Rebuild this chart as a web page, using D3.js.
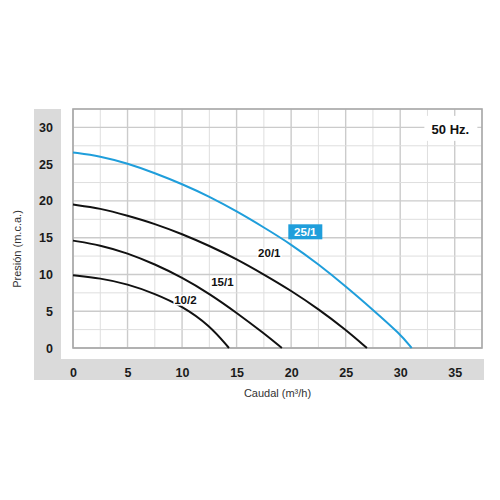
<!DOCTYPE html>
<html>
<head>
<meta charset="utf-8">
<script src="https://cdn.jsdelivr.net/npm/d3@7"></script>
<style>
  body { margin: 0; background: #fff; }
  svg text { font-family: "Liberation Sans", Arial, Helvetica, sans-serif; }
</style>
</head>
<body>
<div class="chart"></div>
<script>
// caudal (m3/h) / presion (m.c.a.)
var q25 = [0, 2.5, 5, 7.5, 10, 12.5, 15, 17.5, 20, 22.5, 25, 27.5, 30, 31.05];
var h25 = [26.6, 26.1, 25.1, 23.8, 22.3, 20.6, 18.6, 16.4, 14.1, 11.4, 8.4, 5.2, 1.9, 0];

var q20 = [0, 2.5, 5, 7.5, 10, 12.5, 15, 17.5, 20, 22.5, 25, 26.95];
var h20 = [19.5, 19.0, 18.0, 16.9, 15.5, 13.9, 12.1, 10.0, 7.8, 5.3, 2.5, 0];

var q15 = [0, 2.5, 5, 7.5, 10, 12.5, 15, 17.5, 19.15];
var h15 = [14.6, 14.0, 12.9, 11.4, 9.6, 7.4, 4.8, 2.0, 0];

var q10 = [0, 2.5, 5, 7.5, 10, 12.5, 14.3];
var h10 = [9.9, 9.5, 8.7, 7.4, 5.7, 3.1, 0];

var seriesNames = ["25/1", "20/1", "15/1", "10/2"];
var labelQ = [21.3, 18.0, 13.7, 10.3];
var labelH = [15.8, 12.9, 9.0, 6.5];

var xTicks = [0, 5, 10, 15, 20, 25, 30, 35];
var yTicks = [0, 5, 10, 15, 20, 25, 30];
var xMax = 37.5, yMax = 32.5;

var blue = "#1f9edb";

var margin = {top: 109, right: 18, bottom: 152, left: 73};
var width = 500 - margin.left - margin.right,
    height = 500 - margin.top - margin.bottom;

var svg = d3.select(".chart").append("svg")
    .attr("width", 500)
    .attr("height", 500);

// grey L-shaped frame behind the plot
svg.append("rect").attr("x", 34).attr("y", 109).attr("width", 450).attr("height", 271).attr("fill", "#dadada");
svg.append("rect").attr("x", 61).attr("y", 95).attr("width", 439).attr("height", 264).attr("fill", "#fff");

var g = svg.append("g")
    .attr("transform", "translate(" + margin.left + "," + margin.top + ")");

var x = d3.scaleLinear().domain([0, xMax]).range([0, width]);
var y = d3.scaleLinear().domain([0, yMax]).range([height, 0]);

// grid
var minor = d3.range(0, xMax + 0.1, 2.5);
var minorY = d3.range(0, yMax + 0.1, 2.5);

g.selectAll(".vgrid").data(minor).enter().append("line")
    .attr("x1", function(d) { return x(d); })
    .attr("x2", function(d) { return x(d); })
    .attr("y1", 0).attr("y2", height)
    .attr("stroke", function(d) { return d % 5 === 0 ? "#cbcbcb" : "#dedede"; })
    .attr("stroke-width", function(d) { return d % 5 === 0 ? 1.4 : 1; });

g.selectAll(".hgrid").data(minorY).enter().append("line")
    .attr("y1", function(d) { return y(d); })
    .attr("y2", function(d) { return y(d); })
    .attr("x1", 0).attr("x2", width)
    .attr("stroke", function(d) { return d % 5 === 0 ? "#cbcbcb" : "#dedede"; })
    .attr("stroke-width", function(d) { return d % 5 === 0 ? 1.4 : 1; });

g.append("rect")
    .attr("width", width).attr("height", height)
    .attr("fill", "none")
    .attr("stroke", "#a8a8a8")
    .attr("stroke-width", 1.6);

// axes
var xAxis = d3.axisBottom(x).tickValues(xTicks).tickSize(0).tickPadding(0);
var yAxis = d3.axisLeft(y).tickValues(yTicks).tickSize(0).tickPadding(0);

var gx = g.append("g")
    .attr("transform", "translate(0," + (height + 25) + ")")
    .call(xAxis);
gx.select(".domain").remove();
gx.selectAll("text")
    .attr("font-size", 12.5).attr("font-weight", "bold").attr("fill", "#1a1a1a")
    .attr("dy", "0.32em").attr("y", 0);

var gy = g.append("g")
    .attr("transform", "translate(-20,0)")
    .call(yAxis);
gy.select(".domain").remove();
gy.selectAll("text")
    .attr("font-size", 12.5).attr("font-weight", "bold").attr("fill", "#1a1a1a")
    .attr("x", 0);

svg.append("text")
    .attr("x", margin.left + width / 2).attr("y", 397)
    .attr("text-anchor", "middle")
    .attr("font-size", 11).attr("fill", "#333")
    .text("Caudal (m³/h)");

svg.append("text")
    .attr("transform", "translate(21,249) rotate(-90)")
    .attr("text-anchor", "middle")
    .attr("font-size", 11).attr("fill", "#333")
    .text("Presión (m.c.a.)");

// curves
var curves = [
    {q: q25, h: h25, color: blue},
    {q: q20, h: h20, color: "#111"},
    {q: q15, h: h15, color: "#111"},
    {q: q10, h: h10, color: "#111"}
];

var line = d3.line()
    .x(function(d) { return x(d[0]); })
    .y(function(d) { return y(d[1]); })
    .curve(d3.curveBasis);

g.selectAll(".curve").data(curves).enter().append("path")
    .attr("class", "curve")
    .attr("fill", "none")
    .attr("stroke", function(d) { return d.color; })
    .attr("stroke-width", 2)
    .attr("d", function(d) { return line(d.q.map(function(v, i) { return [v, d.h[i]]; })); });

// curve labels
seriesNames.forEach(function(name, i) {
    var lx = x(labelQ[i]), ly = y(labelH[i]);
    var first = i === 0;
    if (first) {
        g.append("rect")
            .attr("x", lx - 17).attr("y", ly - 7.5)
            .attr("width", 34).attr("height", 15)
            .attr("fill", blue);
    }
    g.append("text")
        .attr("x", lx).attr("y", ly)
        .attr("dy", "0.36em")
        .attr("text-anchor", "middle")
        .attr("font-size", 11.5).attr("font-weight", "bold")
        .attr("fill", first ? "#fff" : "#111")
        .attr("stroke", first ? "none" : "#fff")
        .attr("stroke-width", 3)
        .attr("paint-order", "stroke")
        .text(name);
});

// frequency tag
g.append("rect")
    .attr("x", x(34.6) - 26).attr("y", y(29.8) - 13)
    .attr("width", 53).attr("height", 25)
    .attr("fill", "#fff");
g.append("text")
    .attr("x", x(34.6)).attr("y", y(29.8))
    .attr("dy", "0.36em")
    .attr("text-anchor", "middle")
    .attr("font-size", 13).attr("font-weight", "bold").attr("fill", "#111")
    .text("50 Hz.");
</script>
</body>
</html>
